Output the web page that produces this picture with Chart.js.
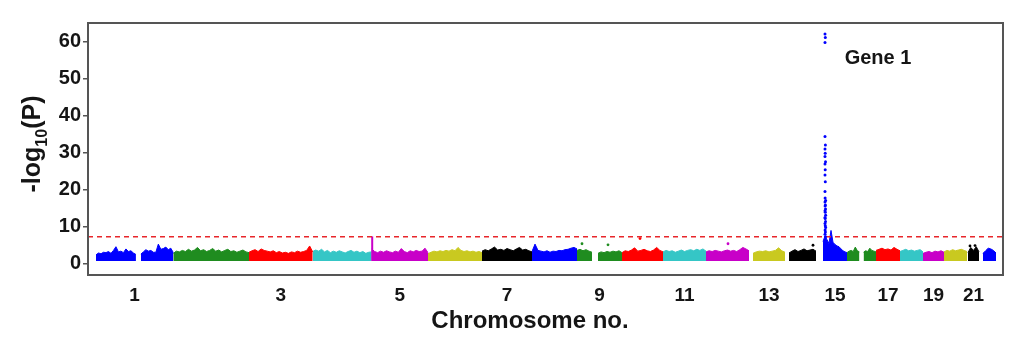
<!DOCTYPE html>
<html>
<head>
<meta charset="utf-8">
<script src="https://cdn.jsdelivr.net/npm/chart.js@4.4.1/dist/chart.umd.min.js"></script>
<style>
html,body{margin:0;padding:0;background:#ffffff;}
canvas{display:block;}
</style>
</head>
<body>
<canvas id="c" width="1024" height="356"></canvas>
<script>
// ---------------- DATA ----------------
const chromosomes = ['1','2','3','4','5','6','7','8','9','10','11','12','13','14','15','16','17','18','19','20','21','22'];
// cumulative genome position (arbitrary units) where each chromosome's markers start / end
const chrStart = [8, 85.3, 161, 224.7, 283.7, 340, 394, 444, 489, 534, 575, 618, 665, 701, 735, 759, 788, 812, 835, 856, 880, 895];
const chrEnd   = [85.3, 161, 224.7, 283.7, 340, 394, 444, 489, 534, 575, 618, 661, 697, 728, 759, 788, 812, 835, 856, 879, 891, 908];
// -log10(P) floor of the dense marker band
const bandFloor = 0.75;
// upper envelope of the dense marker band, sampled evenly across each chromosome (null = no markers)
const bandTop = [
  [2.4,2.9,2.7,3.1,3.0,3.3,2.8,3.6,4.6,3.2,3.4,3.0,4.0,3.3,3.5,2.9,2.5,null,2.6,3.2,3.8,3.4,3.6,3.1,3.1,5.3,3.9,4.1,4.5,3.8,4.2,3.0],
  [2.8,3.4,3.2,3.6,3.3,3.9,3.4,3.7,4.4,3.5,3.8,3.3,3.6,4.1,3.4,3.7,3.2,3.6,3.9,3.3,3.5,3.1,3.4,3.7,3.2,3.0],
  [3.1,3.5,3.8,3.3,4.0,3.6,3.4,3.2,3.5,3.0,3.3,2.9,3.1,2.8,3.2,3.0,3.4,3.1,3.3,3.6,4.8,3.2],
  [3.3,3.7,3.4,3.9,3.2,3.6,3.0,3.4,3.1,3.5,3.2,2.9,3.3,3.6,3.1,3.4,3.0,3.3,2.8,3.1,3.2],
  [4.0,3.3,3.0,3.4,3.1,3.5,3.2,3.0,3.4,3.1,4.1,3.3,3.0,3.5,3.2,3.6,3.3,3.4,4.2,3.0],
  [2.7,3.1,3.4,3.2,3.5,3.3,3.6,3.4,3.8,3.5,4.4,3.6,3.3,3.5,3.2,3.4,3.1,3.3,3.0],
  [3.4,3.8,3.5,4.0,4.5,3.7,3.9,3.6,4.1,3.8,3.5,4.0,4.4,3.7,3.9,3.5,3.2],
  [3.3,5.3,3.6,3.4,3.2,3.5,3.1,3.4,3.3,3.6,3.5,3.8,3.9,4.2,4.4,4.0],
  [3.6,3.9,3.5,3.8,3.4,3.1,null,2.8,3.2,3.0,3.3,3.1,3.4,3.2,3.5,3.0],
  [3.0,3.5,3.3,3.7,4.3,3.4,3.6,3.9,3.5,3.3,3.7,4.4,3.6,3.2],
  [3.2,3.6,3.3,3.5,3.1,3.4,3.7,3.3,3.6,3.8,3.5,3.9,3.6,4.0,3.4],
  [3.2,3.5,3.3,3.6,3.4,3.2,3.5,3.7,3.4,3.6,3.3,3.8,4.4,4.0,3.5],
  [2.8,3.2,3.4,3.3,3.5,3.2,3.4,3.6,4.3,3.5,3.1],
  [2.9,3.4,3.8,3.3,3.6,4.0,3.5,3.7,3.9,3.4],
  [6.0,7.5,6.5,5.5,9.0,5.8,5.2,4.8,4.6,4.0,3.5,3.2,3.0],
  [3.0,3.4,3.6,3.3,4.5,3.5,3.2,null,3.1,3.5,3.3,4.2,3.6,3.4,3.2],
  [3.6,3.9,4.2,3.8,4.0,3.7,4.4,3.9,3.5],
  [3.3,3.6,3.9,3.5,3.7,3.4,3.6,3.8,3.2],
  [2.8,3.1,3.3,3.0,3.4,3.2,3.5,3.1],
  [3.2,3.6,3.4,3.8,3.5,3.7,3.9,3.6,3.3],
  [3.0,4.4,3.6,4.6,3.2],
  [2.8,3.5,4.2,4.0,3.6,2.9]
];
// the chromosome 15 association peak (individual markers)
const peakX = [737,737.3,737,737,737.4,737,737.2,737,737.5,737,737.2,737,737.3,737,737.1,737.6,737,737.4,737.1,737.5,737,737.3,737.6,737,737.2,737.5,737,737.3,737.6,737.1,737.4,737,737.5];
const peakY = [62.1,61.2,59.8,34.4,32.1,31.0,29.9,29.0,27.6,27.0,25.4,24.0,22.2,19.5,17.8,17.1,16.7,15.9,15.6,14.8,14.3,13.9,13.1,12.5,12.2,11.4,10.9,10.3,9.8,9.1,8.6,8.0,7.3];
// isolated markers standing above the band
const hitChr = [9, 9, 10, 12, 14, 21, 21];
const hitPos = [494, 520, 552, 640, 725, 882, 887];
const hitY   = [5.4, 5.1, 6.8, 5.4, 5.0, 4.8, 4.9];
// narrow vertical spike at the start of chromosome 5
const spikeChr = [5];
const spikePos = [284.2];
const spikeY   = [7.4];
// genome-wide significance line
const threshold = 7.3;
const tickChromosomes = ['1','3','5','7','9','11','13','15','17','19','21'];
const yTicks = [0,10,20,30,40,50,60];
const annotationText = 'Gene 1';
const annotationChr = '15';
const annotationPos = 790;
const annotationY = 55.6;
const xTitle = 'Chromosome no.';

// ---------------- STYLE ----------------
const palette = ['#0000ff','#1f8c1f','#ff0000','#35c6c6','#c800c8','#c9c920','#000000'];
const FONT = '"Liberation Sans", Arial, Helvetica, sans-serif';
const colorOf = (chrIdx) => palette[chrIdx % palette.length];

// ---------------- BUILD ----------------
const datasets = [];
bandTop.forEach((tops, i) => {
  const n = tops.length;
  const step = (chrEnd[i] - chrStart[i]) / (n - 1);
  datasets.push({
    type: 'line',
    label: 'chr' + chromosomes[i],
    data: tops.map((v, j) => ({x: chrStart[i] + j * step, y: v})),
    borderColor: colorOf(i),
    backgroundColor: colorOf(i),
    borderWidth: 1,
    pointRadius: 0,
    tension: 0,
    spanGaps: false,
    fill: {value: bandFloor},
    order: 5
  });
});
spikePos.forEach((p, k) => {
  const ci = chromosomes.indexOf(String(spikeChr[k]));
  datasets.push({
    type: 'line',
    data: [{x: p, y: bandFloor}, {x: p, y: spikeY[k]}],
    borderColor: colorOf(ci),
    borderWidth: 2,
    pointRadius: 0,
    fill: false,
    order: 4
  });
});
datasets.push({
  type: 'line',
  data: [{x: 0, y: threshold}, {x: 915, y: threshold}],
  borderColor: '#e8262b',
  borderWidth: 1.6,
  borderDash: [5, 4],
  pointRadius: 0,
  fill: false,
  order: 3
});
datasets.push({
  type: 'scatter',
  data: hitPos.map((p, k) => ({x: p, y: hitY[k]})),
  pointBackgroundColor: hitChr.map(c => colorOf(chromosomes.indexOf(String(c)))),
  pointBorderWidth: 0,
  pointRadius: 1.4,
  order: 2
});
const peakColor = colorOf(chromosomes.indexOf(annotationChr));
datasets.push({
  type: 'scatter',
  data: peakY.map((v, k) => ({x: peakX[k], y: v})),
  pointBackgroundColor: peakColor,
  pointBorderWidth: 0,
  pointRadius: 1.5,
  order: 1
});

const tickPositions = tickChromosomes.map(c => {
  const i = chromosomes.indexOf(c);
  return (chrStart[i] + chrEnd[i]) / 2;
});

const decor = {
  id: 'decor',
  afterDraw(chart) {
    const {ctx, chartArea: a, scales: {x, y}} = chart;
    ctx.save();
    // frame
    ctx.strokeStyle = '#555555';
    ctx.lineWidth = 2;
    ctx.strokeRect(a.left, a.top, a.right - a.left, a.bottom - a.top);
    // y title: -log10(P)
    ctx.fillStyle = '#151515';
    ctx.textBaseline = 'alphabetic';
    ctx.textAlign = 'left';
    const big = 'bold 25px ' + FONT, small = 'bold 16px ' + FONT;
    ctx.font = big;
    const w1 = ctx.measureText('-log').width;
    const w3 = ctx.measureText('(P)').width;
    ctx.font = small;
    const w2 = ctx.measureText('10').width;
    const tot = w1 + w2 + w3;
    ctx.translate(40, (a.top + a.bottom) / 2 - 5);
    ctx.rotate(-Math.PI / 2);
    ctx.font = big;
    ctx.fillText('-log', -tot / 2, 0);
    ctx.font = small;
    ctx.fillText('10', -tot / 2 + w1, 7);
    ctx.font = big;
    ctx.fillText('(P)', -tot / 2 + w1 + w2, 0);
    ctx.setTransform(1, 0, 0, 1, 0, 0);
    // x title
    ctx.font = 'bold 24px ' + FONT;
    ctx.textAlign = 'center';
    ctx.fillText(xTitle, a.left + 442, 328);
    // annotation
    ctx.font = 'bold 20px ' + FONT;
    ctx.textBaseline = 'middle';
    ctx.fillText(annotationText, x.getPixelForValue(annotationPos), y.getPixelForValue(annotationY));
    ctx.restore();
  }
};

new Chart(document.getElementById('c'), {
  data: {datasets},
  options: {
    responsive: false,
    animation: false,
    devicePixelRatio: 1,
    events: [],
    layout: {padding: {top: 23, right: 21, left: 0, bottom: 0}},
    plugins: {legend: {display: false}, tooltip: {enabled: false}},
    scales: {
      x: {
        type: 'linear',
        min: 0,
        max: 915,
        afterFit(s) { s.height = 81; },
        afterBuildTicks(s) { s.ticks = tickPositions.map(v => ({value: v})); },
        grid: {display: false, drawTicks: false},
        border: {display: false},
        ticks: {
          autoSkip: false,
          maxRotation: 0,
          padding: 9,
          color: '#151515',
          font: {family: FONT, size: 19, weight: 'bold'},
          callback(v) {
            const k = tickPositions.indexOf(v);
            return k >= 0 ? tickChromosomes[k] : '';
          }
        }
      },
      y: {
        type: 'linear',
        min: -3.05,
        max: 65.1,
        afterFit(s) { s.width = 88; },
        afterBuildTicks(s) { s.ticks = yTicks.map(v => ({value: v})); },
        grid: {display: true, drawOnChartArea: false, drawTicks: true, tickLength: 5, color: '#555555', lineWidth: 1.5},
        border: {display: false},
        ticks: {
          padding: 2,
          color: '#151515',
          font: {family: FONT, size: 20, weight: 'bold'}
        }
      }
    }
  },
  plugins: [decor]
});
</script>
</body>
</html>
